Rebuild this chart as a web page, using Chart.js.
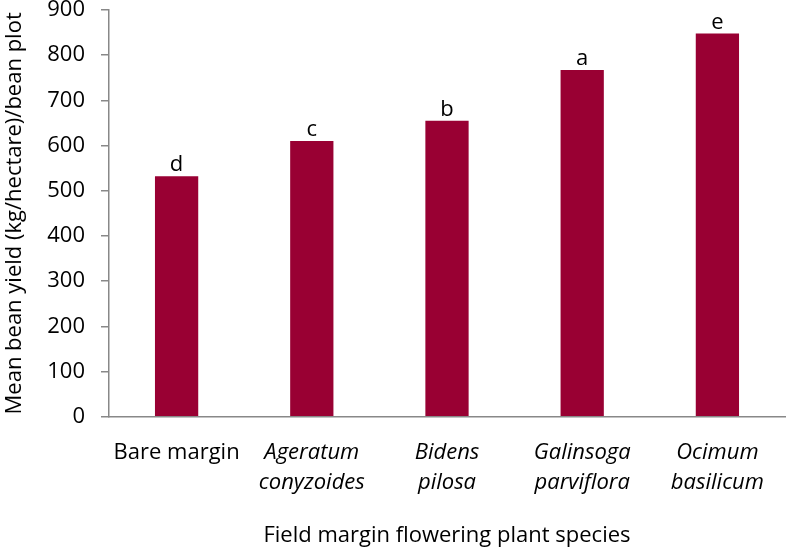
<!DOCTYPE html>
<html>
<head>
<meta charset="utf-8">
<script src="https://cdn.jsdelivr.net/npm/chart.js@4.4.0/dist/chart.umd.min.js"></script>
<style>
  html, body { margin: 0; padding: 0; background: #fff; }
  #wrap { width: 787px; height: 550px; }
</style>
</head>
<body>
<div id="wrap"><canvas id="myChart"></canvas></div>
<script>
// species on the x axis (first one is not a species name, so not italic)
const species = ['Bare margin', ['Ageratum', 'conyzoides'], ['Bidens', 'pilosa'], ['Galinsoga', 'parviflora'], ['Ocimum', 'basilicum']];
const meanYield = [532, 610, 655, 767, 848];
const sigLetters = ['d', 'c', 'b', 'a', 'e'];

const FONT = "'Open Sans', sans-serif";
const SIZE = 22;

// letras encima de cada barra
const letterPlugin = {
  id: 'letters',
  afterDatasetsDraw(chart) {
    const ctx = chart.ctx;
    const meta = chart.getDatasetMeta(0);
    ctx.save();
    ctx.font = SIZE + 'px ' + FONT;
    ctx.fillStyle = '#000';
    ctx.textAlign = 'center';
    ctx.textBaseline = 'alphabetic';
    meta.data.forEach((bar, i) => {
      ctx.fillText(sigLetters[i], bar.x, bar.y - 5);
    });
    ctx.restore();
  }
};

const ctx = document.getElementById('myChart').getContext('2d');
new Chart(ctx, {
  type: 'bar',
  data: {
    labels: species,
    datasets: [{
      data: meanYield,
      backgroundColor: '#990033',
      barPercentage: 0.32,
      categoryPercentage: 1.0
    }]
  },
  options: {
    responsive: true,
    maintainAspectRatio: false,
    animation: false,
    layout: { padding: { top: 0, right: 2, left: 0, bottom: 1 } },
    plugins: {
      legend: { display: false },
      tooltip: { enabled: false }
    },
    scales: {
      x: {
        grid: { display: false },
        border: { display: true, color: '#888', width: 1.5 },
        ticks: {
          color: '#000',
          padding: 13,
          maxRotation: 0,
          autoSkip: false,
          font: (c) => ({ family: FONT, size: SIZE, style: c.index === 0 ? 'normal' : 'italic', lineHeight: 1.36 })
        },
        title: {
          display: true,
          text: 'Field margin flowering plant species',
          color: '#000',
          font: { family: FONT, size: SIZE },
          padding: { top: 12, bottom: 0 }
        }
      },
      y: {
        min: 0,
        max: 900,
        afterFit(scale) {
          // fixed box width so the axis line sits where it does in the original
          scale.width = 109;
          scale.paddingTop = 10;
          scale.paddingBottom = 10;
        },
        grid: { drawOnChartArea: false, drawTicks: true, tickLength: 8, color: '#888', lineWidth: 1.5 },
        border: { display: true, color: '#888', width: 1.5 },
        ticks: {
          stepSize: 100,
          color: '#000',
          padding: 16,
          font: { family: FONT, size: SIZE }
        },
        title: {
          display: true,
          text: 'Mean bean yield (kg/hectare)/bean plot',
          color: '#000',
          font: { family: FONT, size: SIZE },
          padding: { top: 2, bottom: 6 }
        }
      }
    }
  },
  plugins: [letterPlugin]
});
</script>
</body>
</html>
